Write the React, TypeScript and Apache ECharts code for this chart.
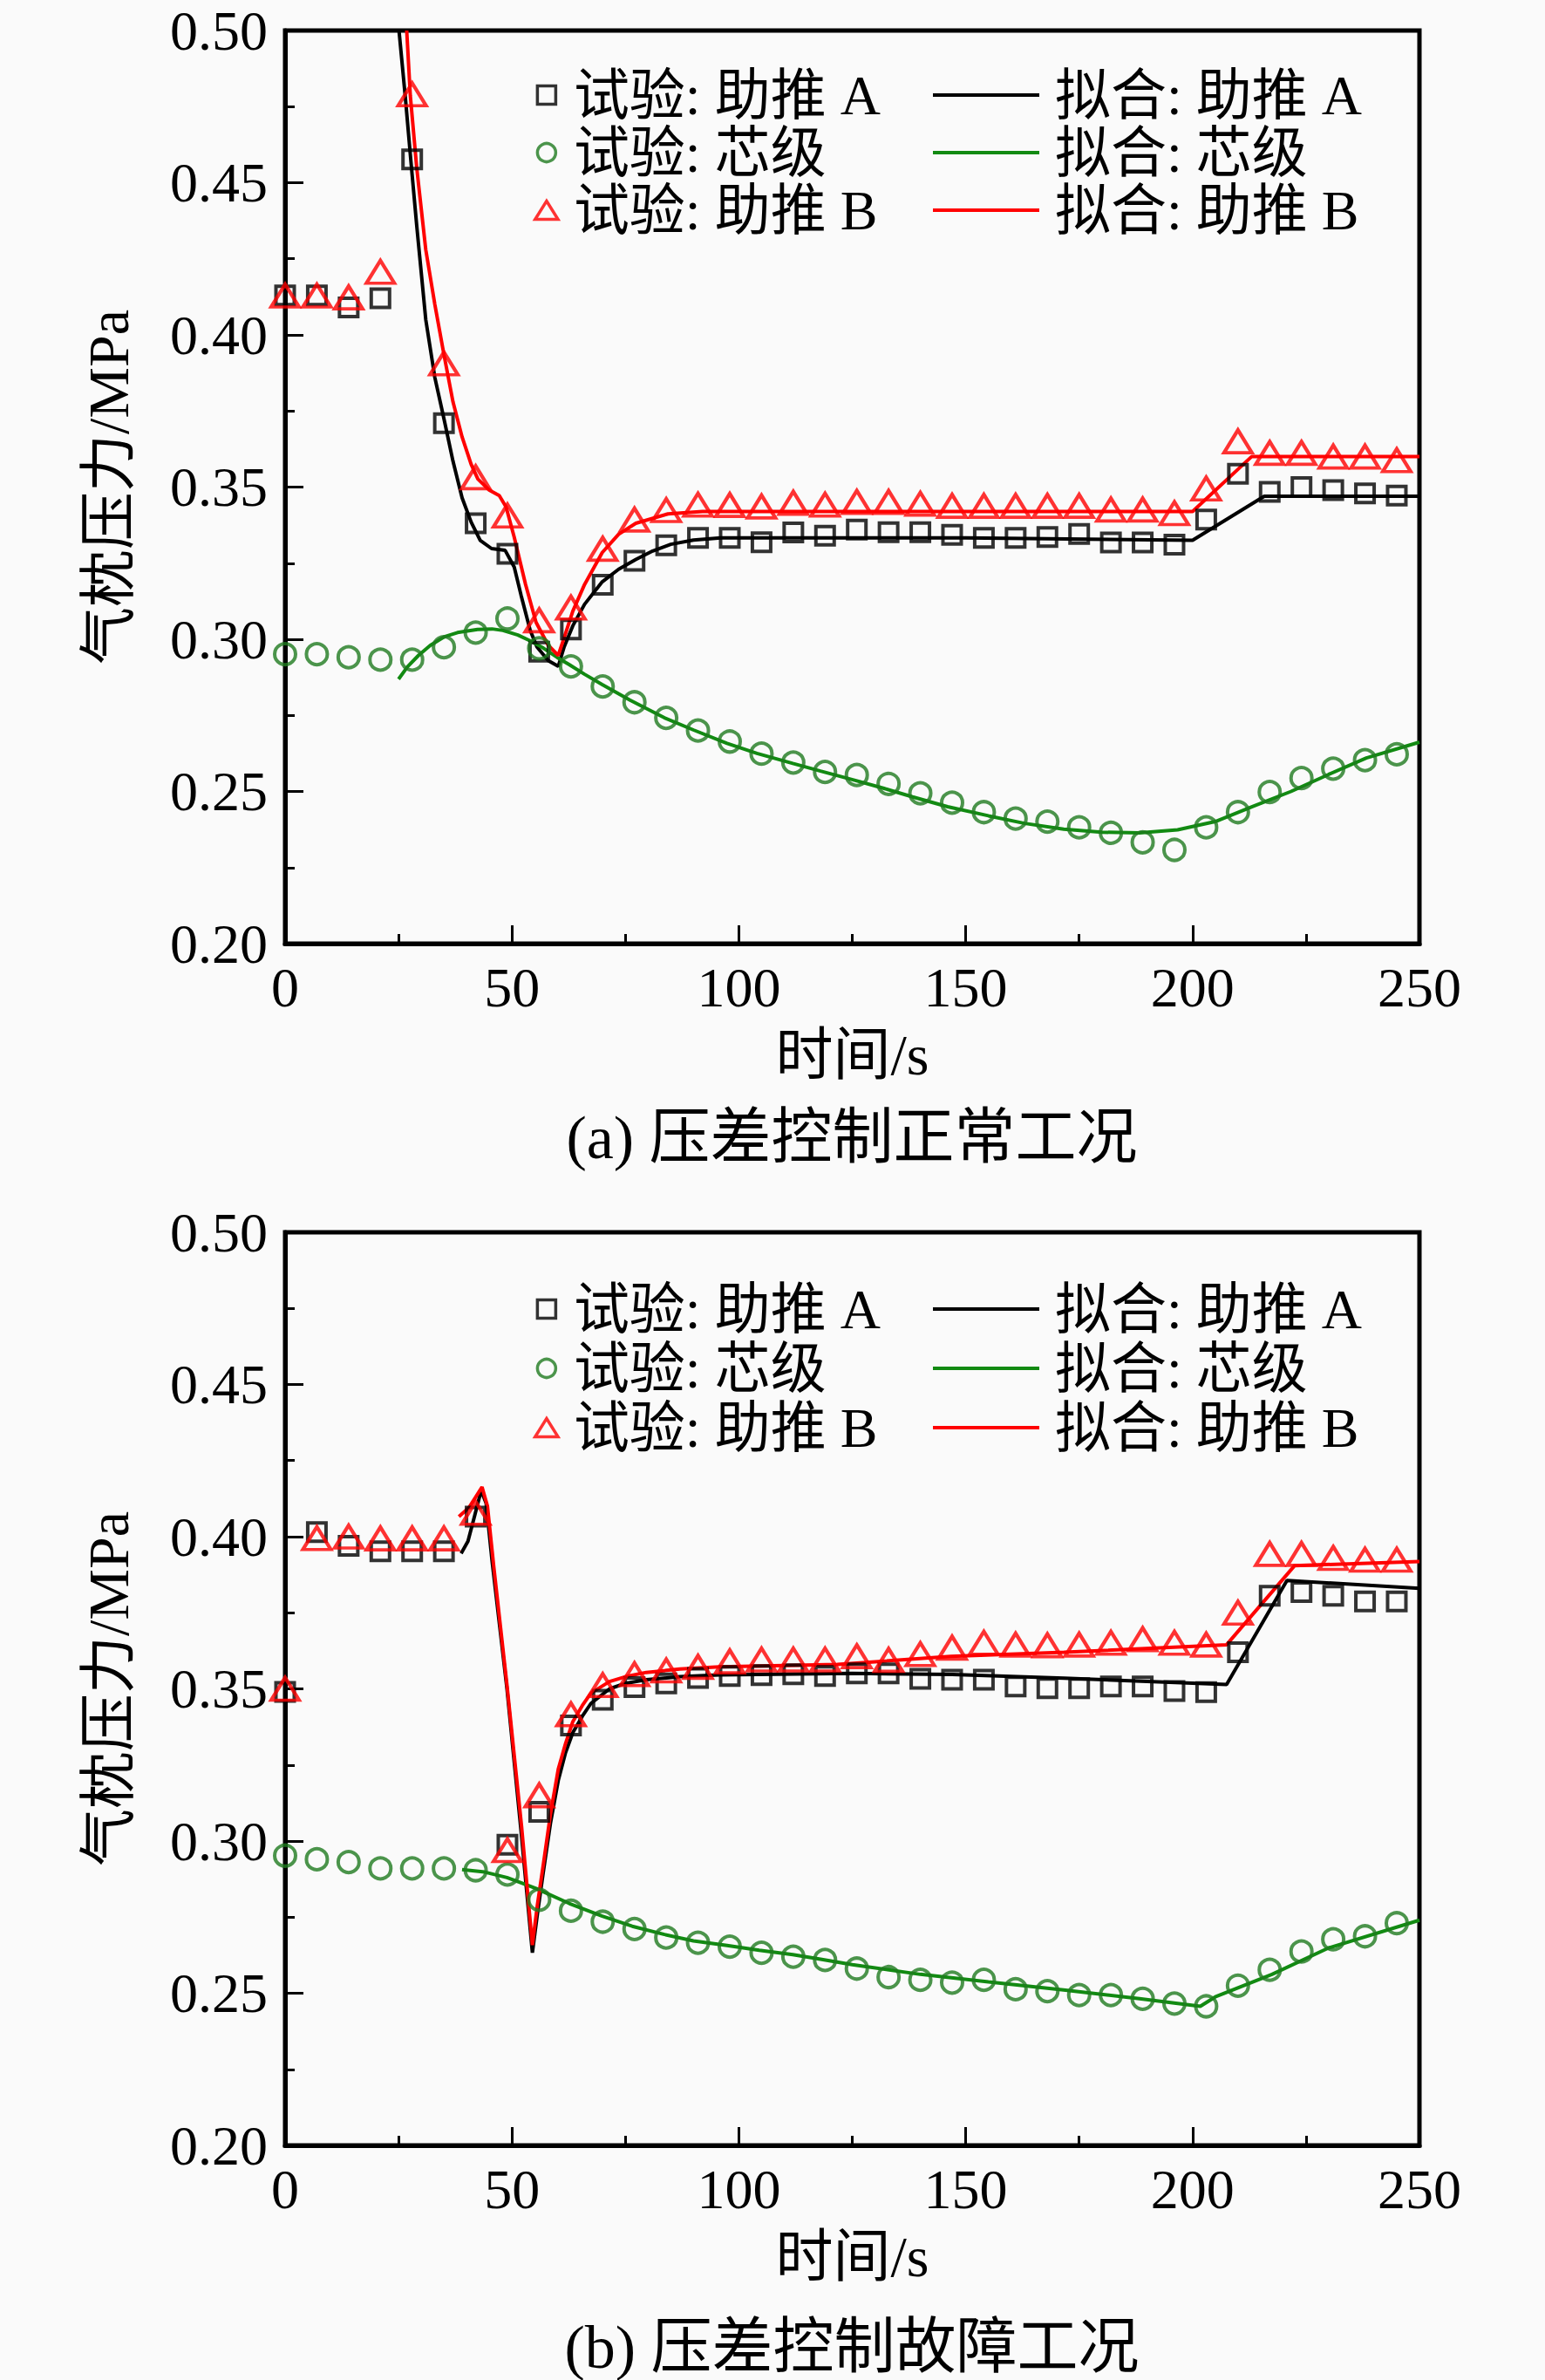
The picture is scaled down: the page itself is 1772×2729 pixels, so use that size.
import React, { useEffect, useRef } from 'react';
import * as echarts from 'echarts';

const FONT = "'Liberation Serif', 'Noto Sans CJK SC', serif";

// sampling times of the test points (s)
const timeSec = [
  0, 7, 14, 21, 28, 35, 42, 49, 56, 63, 70, 77, 84, 91, 98, 105, 112, 119,
  126, 133, 140, 147, 154, 161, 168, 175, 182, 189, 196, 203, 210, 217, 224, 231, 238, 245,
];

const xTicks = { min: 0, max: 250, interval: 50 };
const yTicks = { min: 0.2, max: 0.5, interval: 0.05 };

// (a) 正常工况 - test points
const normBoosterA = [
  0.413, 0.413, 0.409, 0.412, 0.4577, 0.371, 0.3381, 0.3281, 0.2959, 0.3032, 0.3179, 0.3258,
  0.3309, 0.3333, 0.3333, 0.3319, 0.3351, 0.334, 0.336, 0.3352, 0.3352, 0.3343, 0.3333, 0.3333,
  0.3336, 0.3346, 0.3318, 0.3318, 0.3311, 0.3393, 0.3544, 0.3484, 0.35, 0.349, 0.3479, 0.3472,
];
const normCore = [
  0.2951, 0.2951, 0.2941, 0.2933, 0.2933, 0.2974, 0.3022, 0.3068, 0.297, 0.2911, 0.2845, 0.2793,
  0.2742, 0.27, 0.2664, 0.2624, 0.2595, 0.2564, 0.2554, 0.2525, 0.2494, 0.2463, 0.2432, 0.2411,
  0.2401, 0.2382, 0.2364, 0.2333, 0.2308, 0.2382, 0.2432, 0.2498, 0.2544, 0.2575, 0.2603, 0.2622,
];
const normBoosterB = [
  0.4129, 0.4129, 0.4123, 0.4207, 0.479, 0.3906, 0.3532, 0.3406, 0.3062, 0.3104, 0.3297, 0.3393,
  0.3424, 0.3442, 0.3441, 0.3436, 0.3448, 0.3442, 0.3451, 0.3451, 0.3445, 0.3438, 0.3438, 0.3438,
  0.3438, 0.3438, 0.3426, 0.3426, 0.3414, 0.3495, 0.365, 0.3612, 0.3612, 0.36, 0.36, 0.3588,
];

// (a) fitted curves [t, p]
const normFitA = [
  [25.1, 0.5], [26.5, 0.478], [27.7, 0.4575], [29, 0.436], [31, 0.405], [33, 0.386], [35, 0.3725],
  [37, 0.3585], [39, 0.3465], [41, 0.3385], [43, 0.3325], [45.5, 0.3298], [48.5, 0.3292],
  [50.5, 0.3237], [52, 0.3145], [54, 0.303], [55.5, 0.2975], [58, 0.293], [60.2, 0.2911],
  [61.5, 0.2975], [63.4, 0.3044], [66, 0.3115], [69.9, 0.3189], [73.5, 0.323], [77.3, 0.3262],
  [81, 0.329], [85, 0.3312], [90, 0.3326], [96, 0.3333], [150, 0.3333], [200, 0.3325],
  [215.8, 0.347], [250, 0.347],
];
const normFitCore = [
  [25, 0.2869], [27, 0.291], [29.4, 0.2947], [32, 0.298], [35.1, 0.3008], [38, 0.3022],
  [42.4, 0.3032], [45.6, 0.3034], [48, 0.3029], [51.3, 0.3014], [54, 0.2995], [56.9, 0.2971],
  [60, 0.294], [62.6, 0.2917], [66, 0.2885], [69.9, 0.2851], [76, 0.28], [83.6, 0.2742],
  [90, 0.2702], [97.4, 0.2658], [104, 0.2625], [111.9, 0.2592], [118, 0.2567], [125.5, 0.2537],
  [132, 0.251], [138.3, 0.2482], [146, 0.245], [155, 0.242], [163, 0.2395], [171.6, 0.2376],
  [180, 0.2366], [188.3, 0.2364], [196.7, 0.2374], [205, 0.2401], [213.3, 0.2451], [221.7, 0.25],
  [230, 0.2556], [238.3, 0.261], [250, 0.2662],
];
const normFitB = [
  [26.8, 0.5], [27.6, 0.4785], [29, 0.455], [31, 0.428], [33, 0.41], [35, 0.3936], [37, 0.378],
  [39, 0.3665], [41, 0.3575], [42.5, 0.3526], [45, 0.349], [47.2, 0.3472], [48.7, 0.3435],
  [50.5, 0.3335], [53, 0.318], [55.3, 0.3056], [58, 0.298], [60.2, 0.2947], [61.6, 0.301],
  [63.4, 0.3092], [66, 0.318], [69.9, 0.3285], [73.5, 0.3345], [77.3, 0.3381], [84.4, 0.3412],
  [92, 0.342], [200, 0.342], [213, 0.36], [250, 0.36],
];

// (b) 故障工况 - test points
const faultBoosterA = [
  0.349, 0.4015, 0.397, 0.3952, 0.3952, 0.3952, 0.4066, 0.2988, 0.3096, 0.338, 0.3464, 0.3506,
  0.3518, 0.3536, 0.3542, 0.3545, 0.3548, 0.3542, 0.3551, 0.3551, 0.3533, 0.353, 0.353, 0.3508,
  0.3502, 0.3502, 0.3508, 0.3508, 0.3493, 0.3489, 0.362, 0.3806, 0.3818, 0.3806, 0.3787, 0.3787,
];
const faultCore = [
  0.2952, 0.294, 0.2931, 0.291, 0.291, 0.291, 0.2904, 0.289, 0.2807, 0.2771, 0.2735, 0.2711,
  0.2683, 0.2666, 0.2653, 0.2633, 0.262, 0.2609, 0.2581, 0.2553, 0.2544, 0.2535, 0.2544, 0.2513,
  0.2507, 0.2494, 0.2494, 0.2482, 0.2466, 0.2457, 0.2525, 0.2577, 0.2637, 0.2677, 0.2687, 0.273,
];
const faultBoosterB = [
  0.35, 0.3995, 0.4, 0.3994, 0.3994, 0.3994, 0.4078, 0.297, 0.315, 0.3416, 0.3512, 0.3548,
  0.356, 0.3572, 0.359, 0.3596, 0.3596, 0.3596, 0.3607, 0.3595, 0.3614, 0.3635, 0.3651, 0.3645,
  0.3643, 0.3645, 0.3651, 0.3663, 0.3651, 0.3645, 0.375, 0.3943, 0.3943, 0.393, 0.3924, 0.3924,
];

// (b) fitted curves [t, p]
const faultFitA = [
  [38.8, 0.3945], [40.3, 0.3985], [41.8, 0.407], [43.2, 0.4151], [44.3, 0.411], [45.6, 0.3922],
  [48.9, 0.35], [52.1, 0.3018], [54.5, 0.2633], [55.6, 0.276], [56.9, 0.2898], [58.5, 0.306],
  [60.2, 0.3199], [61.8, 0.329], [63.4, 0.3356], [65.5, 0.341], [67.4, 0.3452], [71.5, 0.35],
  [75, 0.3518], [79.6, 0.353], [87, 0.354], [95.7, 0.3546], [125, 0.3551], [147, 0.3547],
  [171.7, 0.3535], [207.5, 0.3514], [220.8, 0.3856], [250, 0.383],
];
const faultFitCore = [
  [39, 0.2906], [44, 0.2898], [48.9, 0.288], [52, 0.2863], [55.3, 0.2844], [62.6, 0.2795],
  [69.9, 0.2753], [76.5, 0.272], [83.6, 0.2693], [90, 0.2672], [97.4, 0.2657], [104.5, 0.2641],
  [111.9, 0.2627], [118, 0.2612], [125, 0.2594], [140, 0.2562], [155, 0.2537], [172, 0.251],
  [188.3, 0.2482], [201.7, 0.2457], [205, 0.2488], [217.5, 0.2562], [230, 0.2649], [250, 0.274],
];
const faultFitB = [
  [38.3, 0.4066], [40.5, 0.4095], [42, 0.413], [43.4, 0.4163], [44.6, 0.41], [46, 0.39],
  [48.9, 0.3512], [52.1, 0.305], [54.5, 0.2658], [55.6, 0.279], [56.9, 0.2922], [58.5, 0.309],
  [60.2, 0.3236], [61.8, 0.332], [63.4, 0.3392], [65.5, 0.3445], [67.4, 0.3486], [71.5, 0.3524],
  [75, 0.354], [79.6, 0.3554], [87, 0.3565], [95.7, 0.3572], [121.7, 0.358], [146.7, 0.3607],
  [171.7, 0.362], [207.5, 0.3645], [222.5, 0.3905], [250, 0.3918],
];

const testNames = ['试验: 助推 A', '试验: 芯级', '试验: 助推 B'];
const fitNames = ['拟合: 助推 A', '拟合: 芯级', '拟合: 助推 B'];

// legend icons for the test markers (kept at their own aspect)
const testIcons = ['path://M0,0H10V10H0Z', 'circle', 'path://M6,0L12,9.6H0Z'];

const BLACK = '#000000';
const RED = '#ff0000';
const GREEN_LINE = '#128a12';
const GREEN_MARK = '#1f7a1f';

interface PanelProps {
  height: number;
  gridTop: number;
  legendTop: number;
  rowHeight: number;
  caption: string;
  captionY: number;
  expA: number[];
  expCore: number[];
  expB: number[];
  fitA: number[][];
  fitCore: number[][];
  fitB: number[][];
}

const PressurePanel: React.FC<PanelProps> = (p) => {
  const chartRef = useRef<HTMLDivElement>(null);

  useEffect(() => {
    if (!chartRef.current) return;
    const chart = echarts.init(chartRef.current, null, { renderer: 'svg' });

    const pairs = (vals: number[]) => timeSec.map((t, i) => [t, vals[i]]);
    const tickStyle = { color: BLACK, width: 3 };
    const labelStyle = { fontFamily: FONT, fontSize: 64, color: BLACK };
    const nameStyle = { fontFamily: FONT, fontSize: 66, color: BLACK };
    const legendText = { fontFamily: FONT, fontSize: 64, lineHeight: p.rowHeight, color: BLACK };

    const option: echarts.EChartsOption = {
      animation: false,
      backgroundColor: '#fafafa',
      grid: {
        left: 327,
        top: p.gridTop,
        width: 1301,
        height: 1047,
        show: true,
        borderColor: BLACK,
        borderWidth: 5,
        backgroundColor: 'transparent',
      },
      xAxis: {
        type: 'value',
        ...xTicks,
        name: '时间/s',
        nameLocation: 'middle',
        nameGap: 94,
        nameTextStyle: nameStyle,
        axisLine: { show: true, lineStyle: { color: BLACK, width: 5 } },
        axisTick: { show: true, inside: true, length: 21, lineStyle: tickStyle },
        minorTick: { show: true, splitNumber: 2, length: 11, lineStyle: tickStyle },
        axisLabel: { ...labelStyle, margin: 18 },
        splitLine: { show: false },
      },
      yAxis: {
        type: 'value',
        ...yTicks,
        name: '气枕压力/MPa',
        nameLocation: 'middle',
        nameRotate: 90,
        nameGap: 170,
        nameTextStyle: nameStyle,
        axisLine: { show: true, lineStyle: { color: BLACK, width: 5 } },
        axisTick: { show: true, inside: true, length: 21, lineStyle: tickStyle },
        minorTick: { show: true, splitNumber: 2, length: 11, lineStyle: tickStyle },
        axisLabel: { ...labelStyle, margin: 20, formatter: (v: number) => v.toFixed(2) },
        splitLine: { show: false },
      },
      legend: [
        {
          data: testNames.map((name, i) => ({ name, icon: testIcons[i] })),
          orient: 'vertical',
          left: 607,
          top: p.legendTop,
          itemWidth: 40,
          itemHeight: 21,
          itemGap: 0,
          symbolKeepAspect: true,
          selectedMode: false,
          itemStyle: { borderWidth: 3.5 },
          textStyle: { ...legendText, padding: [0, 0, 0, 6] },
        },
        {
          data: fitNames.map((name) => ({ name, icon: 'rect' })),
          orient: 'vertical',
          left: 1065,
          top: p.legendTop,
          itemWidth: 122,
          itemHeight: 4,
          itemGap: 0,
          symbolKeepAspect: false,
          selectedMode: false,
          itemStyle: { borderWidth: 0 },
          textStyle: { ...legendText, padding: [0, 0, 0, 13] },
        },
      ],
      graphic: [
        {
          type: 'text',
          x: 977,
          y: p.captionY,
          style: {
            text: p.caption,
            fill: BLACK,
            font: `70px ${FONT}`,
            textAlign: 'center',
            textVerticalAlign: 'middle',
          },
        },
      ],
      series: [
        {
          type: 'line',
          name: fitNames[0],
          data: p.fitA,
          showSymbol: false,
          symbol: 'none',
          itemStyle: { color: BLACK },
          lineStyle: { color: BLACK, width: 4 },
          z: 2,
        },
        {
          type: 'line',
          name: fitNames[1],
          data: p.fitCore,
          showSymbol: false,
          symbol: 'none',
          itemStyle: { color: GREEN_LINE },
          lineStyle: { color: GREEN_LINE, width: 4 },
          z: 2,
        },
        {
          type: 'line',
          name: fitNames[2],
          data: p.fitB,
          showSymbol: false,
          symbol: 'none',
          itemStyle: { color: RED },
          lineStyle: { color: RED, width: 4 },
          z: 2,
        },
        {
          type: 'scatter',
          name: testNames[0],
          data: pairs(p.expA),
          symbol: 'rect',
          symbolSize: 21,
          itemStyle: { color: 'transparent', borderColor: BLACK, borderWidth: 4 },
          z: 3,
        },
        {
          type: 'scatter',
          name: testNames[1],
          data: pairs(p.expCore),
          symbol: 'circle',
          symbolSize: 24,
          itemStyle: { color: 'transparent', borderColor: GREEN_MARK, borderWidth: 4 },
          z: 3,
        },
        {
          type: 'scatter',
          name: testNames[2],
          data: pairs(p.expB),
          symbol: 'triangle',
          symbolSize: [32, 26],
          itemStyle: { color: 'transparent', borderColor: RED, borderWidth: 4 },
          z: 4,
        },
      ],
    };

    chart.setOption(option);

    return () => {
      chart.dispose();
    };
  }, [p]);

  return <div ref={chartRef} style={{ width: 1772, height: p.height }} />;
};

export default function App() {
  useEffect(() => {
    document.body.style.margin = '0';
  }, []);

  return (
    <div style={{ width: 1772, background: '#fafafa' }}>
      <PressurePanel
        height={1365}
        gridTop={35}
        legendTop={71}
        rowHeight={66}
        caption="(a) 压差控制正常工况"
        captionY={1304}
        expA={normBoosterA}
        expCore={normCore}
        expB={normBoosterB}
        fitA={normFitA}
        fitCore={normFitCore}
        fitB={normFitB}
      />
      <PressurePanel
        height={1364}
        gridTop={48}
        legendTop={97}
        rowHeight={68}
        caption="(b) 压差控制故障工况"
        captionY={1326}
        expA={faultBoosterA}
        expCore={faultCore}
        expB={faultBoosterB}
        fitA={faultFitA}
        fitCore={faultFitCore}
        fitB={faultFitB}
      />
    </div>
  );
}
